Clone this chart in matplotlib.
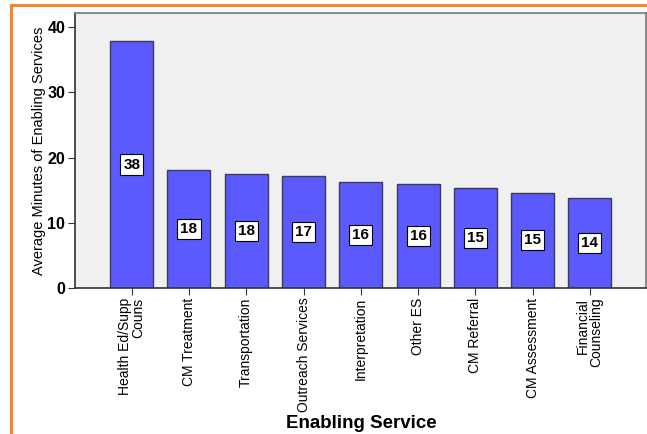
import matplotlib.pyplot as plt
from matplotlib.lines import Line2D

plt.rcParams['font.family'] = ['Liberation Sans', 'DejaVu Sans']

categories = ["Health Ed/Supp\nCouns", "CM Treatment", "Transportation", "Outreach Services",
              "Interpretation", "Other ES", "CM Referral", "CM Assessment", "Financial\nCounseling"]
minutes = [37.85, 18.1, 17.5, 17.2, 16.2, 15.9, 15.4, 14.6, 13.8]
labels = ["38", "18", "18", "17", "16", "16", "15", "15", "14"]

fig = plt.figure(figsize=(6.47, 4.34), dpi=100)
ax = fig.add_axes([75 / 647, 1 - 288 / 434, (646 - 75) / 647, (288 - 13) / 434])

# slide decoration (orange frame)
fig.add_artist(Line2D([10.5 / 647, 1], [1 - 5 / 434, 1 - 5 / 434], color='#f28a2e', lw=2.2))
fig.add_artist(Line2D([10.5 / 647, 10.5 / 647], [1 - 5 / 434, 0], color='#f28a2e', lw=2.2))

x = range(len(categories))
ax.bar(x, minutes, width=0.75, color='#5a5aff', edgecolor='#3a3a5a', linewidth=1)
for xi, v, lab in zip(x, minutes, labels):
    ax.text(xi, v / 2, lab, ha='center', va='center', fontsize=11, fontweight='bold',
            bbox=dict(boxstyle='square,pad=0.2', fc='white', ec='black', lw=0.8))

ax.set_facecolor('#f0f0f0')
ax.set_xlim(-0.99, 8.98)
ax.set_ylim(0, 42.15)
ax.set_yticks([0, 10, 20, 30, 40])
ax.set_xticks(list(x))
ax.set_xticklabels(categories, rotation=90, fontsize=10, linespacing=0.95, ha='center',
                   multialignment='right')
ax.tick_params(axis='y', labelsize=11.5, length=5, color='#333333', pad=2)
ax.tick_params(axis='x', length=5, color='#333333', pad=2)
for t in ax.get_yticklabels():
    t.set_fontweight('bold')
for sp in ax.spines.values():
    sp.set_color('#777777')
    sp.set_linewidth(1.2)
ax.spines['left'].set_color('#333333')
ax.spines['bottom'].set_color('#333333')

ax.set_ylabel("Average Minutes of Enabling Services", fontsize=10.5)
ax.yaxis.set_label_coords(-0.05, 0.5)
fig.text(361 / 647, 1 - 424 / 434, "Enabling Service", ha='center', va='center',
         fontsize=13.5, fontweight='bold')

fig.savefig("out.png", dpi=100)
